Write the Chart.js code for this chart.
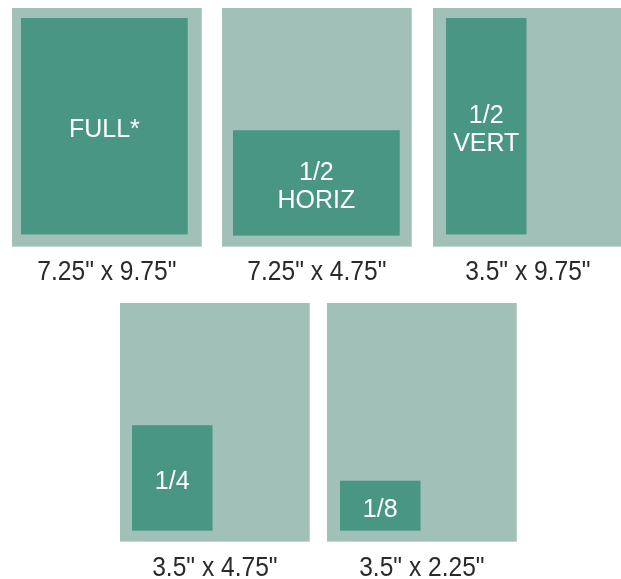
<!DOCTYPE html>
<html lang="en">
<head>
    <meta charset="UTF-8">
    <title>Ad Sizes</title>
    <style>
        html, body { margin: 0; padding: 0; background: #fff; }
        #wrap { width: 621px; height: 579px; }
    </style>
    <script src="https://cdn.jsdelivr.net/npm/chart.js"></script>
</head>
<body>
    <div id="wrap"><canvas id="adChart"></canvas></div>
    <script>
        // ad sizes in inches
        const adNames = ['FULL*', '1/2\nHORIZ', '1/2\nVERT', '1/4', '1/8'];
        const adWidths = [7.25, 7.25, 3.5, 3.5, 3.5];
        const adHeights = [9.75, 4.75, 9.75, 4.75, 2.25];
        const sizeLabels = ['7.25" x 9.75"', '7.25" x 4.75"', '3.5" x 9.75"', '3.5" x 4.75"', '3.5" x 2.25"'];
        const pageWidth = 8.25;
        const pageHeight = 10.75;

        // layout (pixels on the canvas)
        const W = 621, H = 579;
        const pxPerInX = 23, pxPerInY = 22.2;
        const panelLeft = [12, 222, 433, 120, 327];
        const panelTop = [8, 8, 8, 303, 303];
        const anchor = ['top', 'bottom', 'top', 'bottom', 'bottom'];
        const insetX = [9, 11, 13, 12, 13];
        const insetY = [10, 11, 10, 11, 11];
        const captionY = [280, 280, 280, 576, 576];

        const pageColor = '#a1c1b8';
        const adColor = '#4a9685';

        const adPlugin = {
            id: 'adPanels',
            beforeDatasetsDraw(chart) {
                const ctx = chart.ctx;
                const xs = chart.scales.x, ys = chart.scales.y;
                ctx.save();
                adNames.forEach((name, i) => {
                    const ox = panelLeft[i] / pxPerInX, oy = panelTop[i] / pxPerInY;
                    // page
                    const px0 = xs.getPixelForValue(ox), px1 = xs.getPixelForValue(ox + pageWidth);
                    const py0 = ys.getPixelForValue(oy), py1 = ys.getPixelForValue(oy + pageHeight);
                    ctx.fillStyle = pageColor;
                    ctx.fillRect(px0, py0, px1 - px0, py1 - py0);

                    // ad
                    const ax = ox + insetX[i] / pxPerInX;
                    let ay;
                    if (anchor[i] === 'top') ay = oy + insetY[i] / pxPerInY;
                    else ay = oy + pageHeight - insetY[i] / pxPerInY - adHeights[i];
                    const ax0 = xs.getPixelForValue(ax), ax1 = xs.getPixelForValue(ax + adWidths[i]);
                    const ay0 = ys.getPixelForValue(ay), ay1 = ys.getPixelForValue(ay + adHeights[i]);
                    ctx.fillStyle = adColor;
                    ctx.fillRect(ax0, ay0, ax1 - ax0, ay1 - ay0);

                    // name inside the ad
                    const lines = name.split('\n');
                    const cx = (ax0 + ax1) / 2, cy = (ay0 + ay1) / 2 + 4;
                    ctx.fillStyle = '#ffffff';
                    ctx.font = '25px "Liberation Sans", Arial, sans-serif';
                    ctx.textAlign = 'center';
                    ctx.textBaseline = 'middle';
                    lines.forEach((ln, j) => {
                        ctx.fillText(ln, cx, cy + (j - (lines.length - 1) / 2) * 28);
                    });

                    // size caption, squeezed a bit to look condensed
                    ctx.save();
                    ctx.fillStyle = '#2a2a2a';
                    ctx.font = '27px "Liberation Sans", Arial, sans-serif';
                    ctx.textBaseline = 'alphabetic';
                    ctx.translate((px0 + px1) / 2, captionY[i]);
                    ctx.scale(0.91, 1);
                    ctx.fillText(sizeLabels[i], 0, 0);
                    ctx.restore();
                });
                ctx.restore();
            }
        };

        new Chart(document.getElementById('adChart'), {
            type: 'scatter',
            data: { datasets: [] },
            options: {
                responsive: true,
                maintainAspectRatio: false,
                animation: false,
                layout: { padding: 0 },
                plugins: { legend: { display: false }, tooltip: { enabled: false } },
                scales: {
                    x: { type: 'linear', display: false, min: 0, max: W / pxPerInX },
                    y: { type: 'linear', display: false, min: 0, max: H / pxPerInY, reverse: true }
                }
            },
            plugins: [adPlugin]
        });
    </script>
</body>
</html>
